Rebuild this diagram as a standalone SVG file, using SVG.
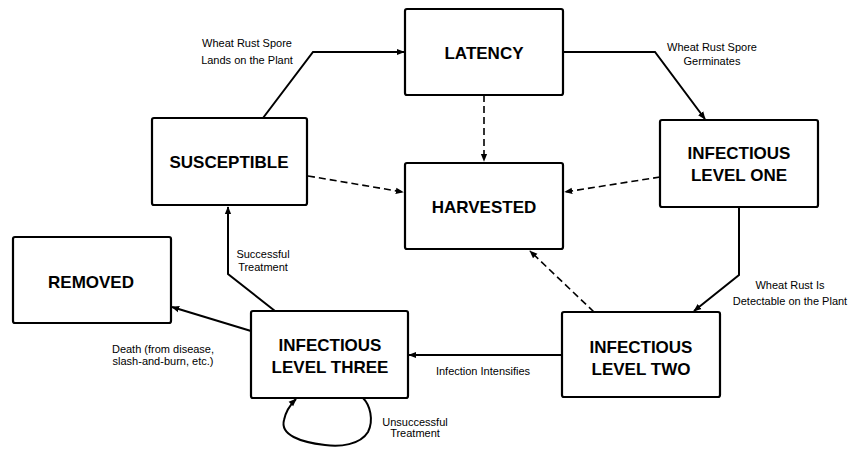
<svg xmlns="http://www.w3.org/2000/svg" width="849" height="450" viewBox="0 0 849 450">
<style>
.box{fill:#fff;stroke:#000;stroke-width:2.2}
.t{font-family:"Liberation Sans",Arial,sans-serif;font-weight:bold;font-size:17px;text-anchor:middle;fill:#000}
.l{font-family:"Liberation Sans",Arial,sans-serif;font-size:11px;text-anchor:middle;fill:#000}
.s{fill:none;stroke:#000;stroke-width:2;marker-end:url(#ah)}
.d{fill:none;stroke:#000;stroke-width:1.6;stroke-dasharray:7 4;marker-end:url(#ah)}
</style>
<defs>
<marker id="ah" viewBox="0 0 10 10" refX="9" refY="5" markerWidth="8" markerHeight="8" markerUnits="userSpaceOnUse" orient="auto">
<path d="M0,1 L10,5 L0,9 Z" fill="#000"/>
</marker>
</defs>
<rect width="849" height="450" fill="#fff"/>
<g id="connectors">
<polyline class="s" points="263,118 313,52 404,52"/>
<polyline class="s" points="563,52 655,52 705,119"/>
<polyline class="s" points="739,207 739,275 694,311"/>
<line class="s" x1="562" y1="355" x2="409" y2="355"/>
<line class="s" x1="251" y1="331" x2="172" y2="307"/>
<polyline class="s" points="275,311 228,274 228,207"/>
<path class="s" d="M363,398 C370,405 374,420 368,432 C360,445 340,447 325,445 C300,442 280,435 284,420 C286,410 291,404 296,399"/>
<line class="d" x1="484" y1="95" x2="484" y2="161"/>
<line class="d" x1="308" y1="176" x2="403" y2="192"/>
<line class="d" x1="660" y1="177" x2="565" y2="192"/>
<line class="d" x1="594" y1="312" x2="530" y2="251"/>
</g>
<g id="labels">
<text class="l" x="247" y="47">Wheat Rust Spore</text>
<text class="l" x="247" y="64">Lands on the Plant</text>
<text class="l" x="712" y="51">Wheat Rust Spore</text>
<text class="l" x="712" y="65">Germinates</text>
<text class="l" x="790" y="289">Wheat Rust Is</text>
<text class="l" x="790" y="305">Detectable on the Plant</text>
<text class="l" x="483" y="375">Infection Intensifies</text>
<text class="l" x="163" y="353">Death (from disease,</text>
<text class="l" x="163" y="365">slash-and-burn, etc.)</text>
<text class="l" x="263" y="258">Successful</text>
<text class="l" x="263" y="271">Treatment</text>
<text class="l" x="415" y="426">Unsuccessful</text>
<text class="l" x="415" y="437">Treatment</text>
</g>
<g id="latency">
<rect class="box" x="405" y="9" width="158" height="86" rx="2"/>
<text class="t" x="484" y="59">LATENCY</text>
</g>
<g id="susceptible">
<rect class="box" x="152" y="118" width="155" height="87" rx="2"/>
<text class="t" x="229" y="168">SUSCEPTIBLE</text>
</g>
<g id="harvested">
<rect class="box" x="405" y="163" width="158" height="86" rx="2"/>
<text class="t" x="484" y="213">HARVESTED</text>
</g>
<g id="infectious-one">
<rect class="box" x="660" y="120" width="158" height="87" rx="2"/>
<text class="t" x="739" y="159">INFECTIOUS</text>
<text class="t" x="739" y="181">LEVEL ONE</text>
</g>
<g id="infectious-two">
<rect class="box" x="562" y="312" width="158" height="85" rx="2"/>
<text class="t" x="641" y="353">INFECTIOUS</text>
<text class="t" x="641" y="375">LEVEL TWO</text>
</g>
<g id="infectious-three">
<rect class="box" x="251" y="311" width="157" height="87" rx="2"/>
<text class="t" x="330" y="351">INFECTIOUS</text>
<text class="t" x="330" y="373">LEVEL THREE</text>
</g>
<g id="removed">
<rect class="box" x="13" y="237" width="158" height="86" rx="2"/>
<text class="t" x="91" y="288">REMOVED</text>
</g>
</svg>
